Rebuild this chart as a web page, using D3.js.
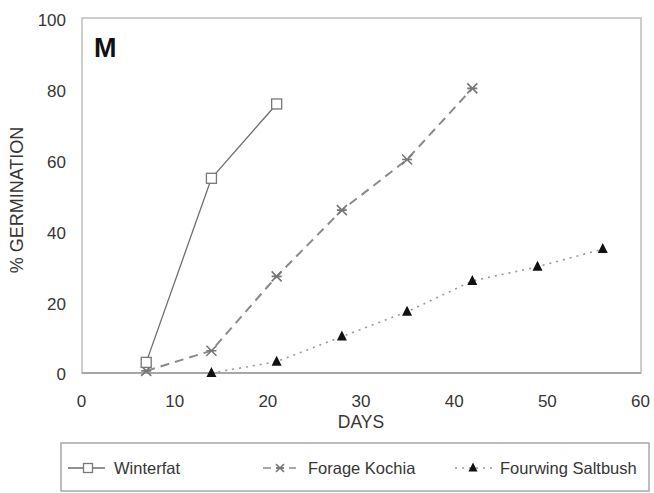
<!DOCTYPE html>
<html><head><meta charset="utf-8">
<script src="https://cdn.jsdelivr.net/npm/d3@7"></script>
<style>
body{margin:0;background:#fff;}
svg{display:block;}
text{font-family:"Liberation Sans",Arial,sans-serif;}
</style></head>
<body>
<svg id="c" width="654" height="493"></svg>
<script>
const xTicks = [0,10,20,30,40,50,60];
const yTicks = [0,20,40,60,80,100];
const winterfatDays = [7,14,21];
const winterfatVals = [3,55,76];
const kochiaDays = [7,14,21,28,35,42];
const kochiaVals = [0.6,6.3,27.3,46,60.3,80.4];
const saltbushDays = [14,21,28,35,42,49,56];
const saltbushVals = [0,3.2,10.3,17.3,26,30,35];
const seriesNames = ["Winterfat","Forage Kochia","Fourwing Saltbush"];

const svg = d3.select("#c");
const x = d3.scaleLinear().domain([0,60]).range([81,640]);
const y = d3.scaleLinear().domain([0,100]).range([373,19]);

// frame
svg.append("rect").attr("x",x(0)+1).attr("y",y(100)-1).attr("width",x(60)-x(0)).attr("height",y(0)-y(100)+1)
  .attr("fill","none").attr("stroke","#bdbdbd").attr("stroke-width",1.5);
svg.append("line").attr("x1",x(0)+1).attr("x2",x(60)+1).attr("y1",y(0)).attr("y2",y(0)).attr("stroke","#9a9a9a").attr("stroke-width",1.5);

const tcol = "#363636";
const xa = svg.append("g").attr("transform",`translate(0,${y(0)})`)
  .call(d3.axisBottom(x).tickValues(xTicks).tickSize(0).tickPadding(22));
xa.select(".domain").remove();
xa.selectAll("text").attr("font-size",17).attr("fill",tcol).attr("font-family","Liberation Sans, Arial, sans-serif");

const ya = svg.append("g").attr("transform",`translate(${x(0)},0)`)
  .call(d3.axisLeft(y).tickValues(yTicks).tickSize(0).tickPadding(15));
ya.select(".domain").remove();
ya.selectAll("text").attr("font-size",17).attr("fill",tcol).attr("font-family","Liberation Sans, Arial, sans-serif").attr("dy","0.4em");

svg.append("text").attr("x",361).attr("y",428).attr("text-anchor","middle").attr("font-size",17.5).attr("fill",tcol).text("DAYS");
svg.append("text").attr("transform","translate(23,200) rotate(-90)").attr("text-anchor","middle").attr("font-size",18).attr("fill",tcol).text("% GERMINATION");
svg.append("text").attr("x",94).attr("y",57).attr("font-size",27).attr("font-weight","bold").attr("fill","#111").text("M");

const line = d3.line().x(d=>x(d[0])).y(d=>y(d[1]));
const wData = d3.zip(winterfatDays,winterfatVals);
const kData = d3.zip(kochiaDays,kochiaVals);
const sData = d3.zip(saltbushDays,saltbushVals);

svg.append("path").datum(sData).attr("d",line).attr("fill","none").attr("stroke","#9a9a9a").attr("stroke-width",1.6).attr("stroke-dasharray","2,5");
svg.append("path").datum(kData).attr("d",line).attr("fill","none").attr("stroke","#8a8a8a").attr("stroke-width",2).attr("stroke-dasharray","9,6");
svg.append("path").datum(wData).attr("d",line).attr("fill","none").attr("stroke","#6e6e6e").attr("stroke-width",1.3);

function square(g,cx,cy,s){ g.append("rect").attr("x",cx-s/2).attr("y",cy-s/2).attr("width",s).attr("height",s).attr("fill","#fff").attr("stroke","#777").attr("stroke-width",1.3); }
function cross(g,cx,cy,s){ 
  g.append("path").attr("d",`M${cx-s/2},${cy-s/2}L${cx+s/2},${cy+s/2}M${cx+s/2},${cy-s/2}L${cx-s/2},${cy+s/2}M${cx-s/2},${cy}L${cx+s/2},${cy}`).attr("stroke","#777").attr("stroke-width",1.6).attr("fill","none");
}
function tri(g,cx,cy,s){ g.append("path").attr("d",`M${cx},${cy-s*0.6}L${cx+s/2},${cy+s*0.4}L${cx-s/2},${cy+s*0.4}Z`).attr("fill","#111"); }

const mk = svg.append("g");
sData.forEach(d=>tri(mk,x(d[0]),y(d[1]),10));
kData.forEach(d=>cross(mk,x(d[0]),y(d[1]),10));
wData.forEach(d=>square(mk,x(d[0]),y(d[1]),10));

// legend
const lg = svg.append("g");
lg.append("rect").attr("x",61).attr("y",443).attr("width",588).attr("height",48).attr("fill","#fff").attr("stroke","#a8a8a8").attr("stroke-width",1.5);
const ly = 468;
lg.append("line").attr("x1",68).attr("x2",105).attr("y1",ly).attr("y2",ly).attr("stroke","#6e6e6e").attr("stroke-width",1.3);
square(lg,88,ly,9);
lg.append("line").attr("x1",263).attr("x2",296).attr("y1",ly).attr("y2",ly).attr("stroke","#8a8a8a").attr("stroke-width",1.6).attr("stroke-dasharray","8,5");
cross(lg,280,ly,8);
lg.append("line").attr("x1",455).attr("x2",493).attr("y1",ly).attr("y2",ly).attr("stroke","#9a9a9a").attr("stroke-width",1.5).attr("stroke-dasharray","2,5");
tri(lg,473,ly,9);
const lx = [114,308,500];
seriesNames.forEach((n,i)=>lg.append("text").attr("x",lx[i]).attr("y",ly+6).attr("font-size",16.5).attr("fill",tcol).text(n));
</script>
</body></html>
